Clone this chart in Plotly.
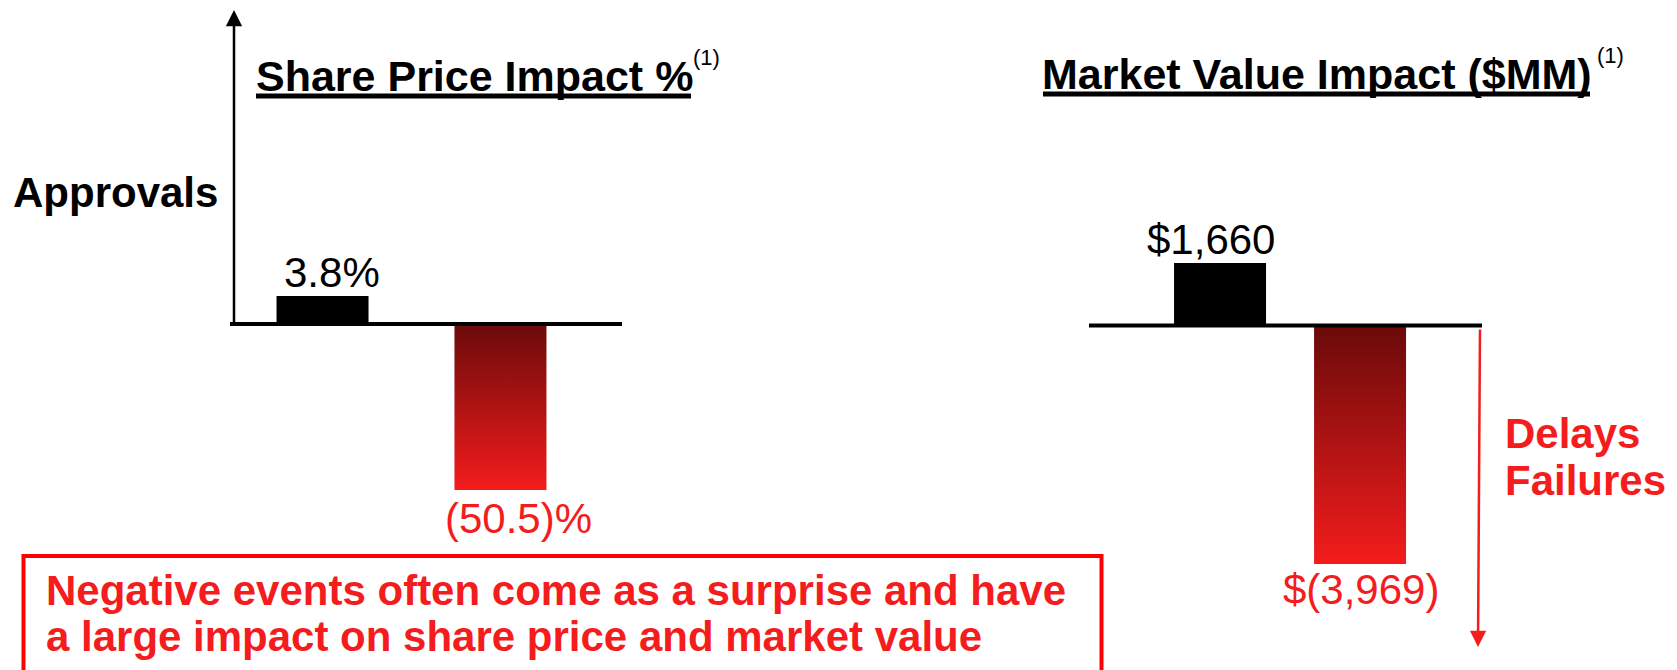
import plotly.graph_objects as go

# values shown in the picture (bars are not drawn to one common scale,
# so the up and down bars of each panel get their own y axis)
events = ["Approvals", "Delays / Failures"]
share_price_pct = [3.8, -50.5]
market_value_mm = [1660, -3969]

share_labels = [f"{v:.1f}%" if v >= 0 else f"({abs(v):.1f})%" for v in share_price_pct]
value_labels = [f"${v:,.0f}" if v >= 0 else f"$({abs(v):,.0f})" for v in market_value_mm]

W, H = 1677, 670
OX, OY = 8, 8  # page body margin in front of the plot div
FONT = "Arial, Liberation Sans, sans-serif"
RED = "#F41C1C"
RED_DARK = "#6B0A0A"
BOX_RED = "#FF0000"


def px(x):
    return (x - OX) / W


def py(y):
    return 1 - (y - OY) / H


def y_range(zero_px, per_px):
    z = zero_px - OY
    return [-(H - z) * per_px, z * per_px]


panels = [
    dict(values=share_price_pct, labels=share_labels, xa="x", ya="y", yneg="y3",
         xdomain=[px(230), px(622)], xrange=[-0.52, 1.683], width=0.517,
         zero=324, pos_scale=3.8 / 28, neg_scale=50.5 / 166,
         shifts=[(9, -2), (18, -3)]),
    dict(values=market_value_mm, labels=value_labels, xa="x2", ya="y2", yneg="y4",
         xdomain=[px(1089), px(1482)], xrange=[-0.936, 1.871], width=0.657,
         zero=325.5, pos_scale=1660 / 62.5, neg_scale=3969 / 238.5,
         shifts=[(-9, -2), (1, 0)]),
]

fig = go.Figure()
annotations = []
shapes = []

for p in panels:
    for i, v in enumerate(p["values"]):
        half = p["width"] / 2
        if v >= 0:
            fig.add_trace(go.Bar(
                x=[i], y=[v], width=p["width"], name=events[i],
                marker=dict(color="black", line_width=0),
                xaxis=p["xa"], yaxis=p["ya"], hoverinfo="skip"))
            annotations.append(dict(
                x=i, y=v, xref=p["xa"], yref=p["ya"], text=p["labels"][i],
                showarrow=False, xanchor="center", yanchor="bottom",
                xshift=p["shifts"][i][0], yshift=p["shifts"][i][1],
                font=dict(family=FONT, size=42, color="black")))
        else:
            fig.add_trace(go.Scatter(
                x=[i - half, i - half, i + half, i + half], y=[0, v, v, 0],
                fill="toself", mode="lines", line=dict(width=0, color=RED),
                fillgradient=dict(type="vertical", colorscale=[[0, RED], [1, RED_DARK]]),
                name=events[i], xaxis=p["xa"], yaxis=p["yneg"], hoverinfo="skip"))
            annotations.append(dict(
                x=i, y=v, xref=p["xa"], yref=p["yneg"], text=p["labels"][i],
                showarrow=False, xanchor="center", yanchor="top",
                xshift=p["shifts"][i][0], yshift=p["shifts"][i][1],
                font=dict(family=FONT, size=42, color=RED)))
    # baseline along the zero of each panel
    shapes.append(dict(type="line", xref=p["xa"] + " domain", x0=0, x1=1,
                       yref=p["ya"], y0=0, y1=0, line=dict(color="black", width=4)))


def text(t, x, y, size=42, color="black", xanchor="left", yanchor="bottom"):
    annotations.append(dict(x=px(x), y=py(y), xref="paper", yref="paper", text=t,
                            showarrow=False, xanchor=xanchor, yanchor=yanchor,
                            font=dict(family=FONT, size=size, color=color)))


def underline(x0, x1, y):
    shapes.append(dict(type="line", xref="paper", yref="paper",
                       x0=px(x0), x1=px(x1), y0=py(y), y1=py(y),
                       line=dict(color="black", width=5)))


text("<b>Share Price Impact %</b>", 254, 102, size=43)
underline(256, 691, 96)
text("(1)", 706.5, 57.5, size=22, xanchor="center", yanchor="middle")
text("<b>Market Value Impact ($MM)</b>", 1040, 100, size=43)
underline(1043, 1590, 94)
text("(1)", 1610.5, 55, size=22, xanchor="center", yanchor="middle")
text("<b>Approvals</b>", 11, 218)
text("<b>Delays</b>", 1503, 459, color=RED)
text("<b>Failures</b>", 1503, 506, color=RED)
text("<b>Negative events often come as a surprise and have</b>", 44, 616, color=RED)
text("<b>a large impact on share price and market value</b>", 44, 662, color=RED)

# arrows: approvals up, delays / failures down
annotations.append(dict(x=px(234), y=py(10), xref="paper", yref="paper", text="",
                        showarrow=True, ax=0, ay=314, arrowhead=2, arrowsize=1.3,
                        arrowwidth=2.5, arrowcolor="black", standoff=0))
annotations.append(dict(x=px(1478), y=py(647), xref="paper", yref="paper", text="",
                        showarrow=True, ax=2, ay=-319, arrowhead=2, arrowsize=1.3,
                        arrowwidth=2.5, arrowcolor=RED, standoff=0))

shapes.append(dict(type="rect", xref="paper", yref="paper",
                   x0=px(23.5), x1=px(1101.5), y0=py(556), y1=py(720),
                   line=dict(color=BOX_RED, width=4), fillcolor="rgba(0,0,0,0)"))

axis_off = dict(visible=False, fixedrange=True)
left, right = panels
fig.update_layout(
    width=W, height=H, margin=dict(l=0, r=0, t=0, b=0),
    paper_bgcolor="white", plot_bgcolor="rgba(0,0,0,0)",
    showlegend=False, barmode="overlay",
    xaxis=dict(domain=left["xdomain"], range=left["xrange"], anchor="y", **axis_off),
    yaxis=dict(domain=[0, 1], range=y_range(left["zero"], left["pos_scale"]), anchor="x", **axis_off),
    yaxis3=dict(overlaying="y", range=y_range(left["zero"], left["neg_scale"]), anchor="x", **axis_off),
    xaxis2=dict(domain=right["xdomain"], range=right["xrange"], anchor="y2", **axis_off),
    yaxis2=dict(domain=[0, 1], range=y_range(right["zero"], right["pos_scale"]), anchor="x2", **axis_off),
    yaxis4=dict(overlaying="y2", range=y_range(right["zero"], right["neg_scale"]), anchor="x2", **axis_off),
    annotations=annotations, shapes=shapes,
)

fig.write_html("out.html")
